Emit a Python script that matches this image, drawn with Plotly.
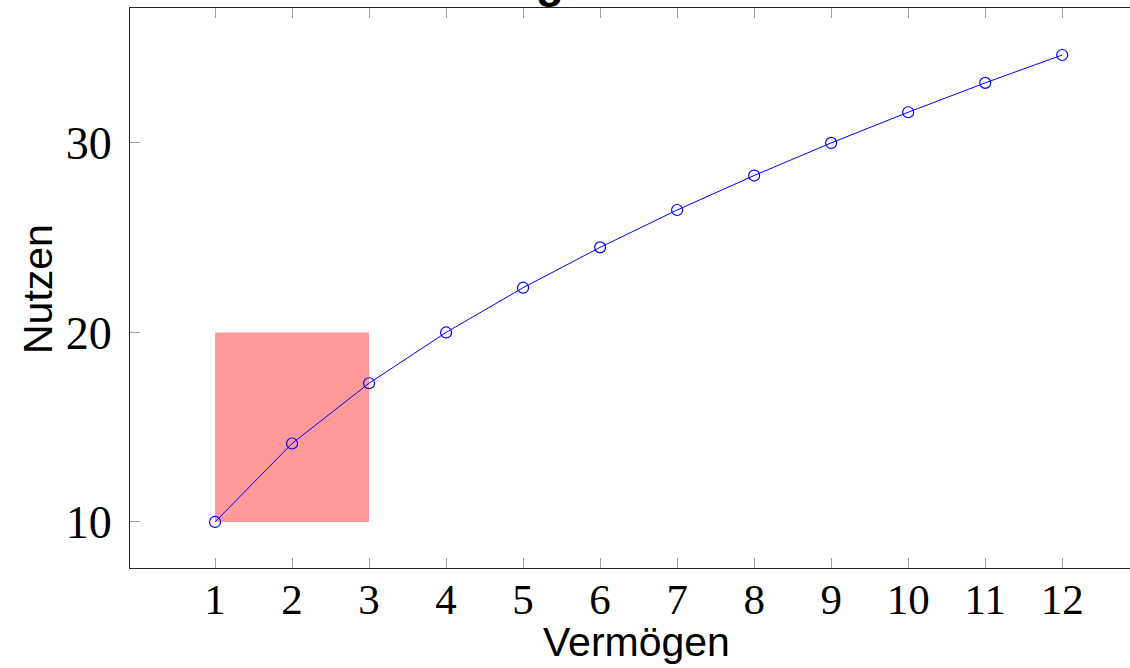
import plotly.graph_objects as go

# Data
wealth = [1, 2, 3, 4, 5, 6, 7, 8, 9, 10, 11, 12]
utility = [10.0, 14.14, 17.32, 20.0, 22.36, 24.49, 26.46, 28.28, 30.0, 31.62, 33.17, 34.64]
x_ticks = [1, 2, 3, 4, 5, 6, 7, 8, 9, 10, 11, 12]
y_ticks = [10, 20, 30]
rect_x = [1, 3]
rect_y = [10, 20]

title_text = "Vermögen und Nutzen"
x_label = "Vermögen"
y_label = "Nutzen"

fig = go.Figure()
fig.add_trace(go.Scatter(
    x=wealth, y=utility, mode="lines+markers",
    line=dict(color="#0000ff", width=1),
    marker=dict(symbol="circle-open", size=11, color="#0000ff", line=dict(width=1.2, color="#0000ff")),
    showlegend=False,
))

fig.add_shape(type="rect", xref="x", yref="y",
              x0=rect_x[0], x1=rect_x[1], y0=rect_y[0], y1=rect_y[1],
              fillcolor="rgba(255,0,0,0.4)", line=dict(width=0), layer="below")

serif = "Liberation Serif"
sans = "Liberation Sans"

fig.update_layout(
    width=1130, height=668,
    margin=dict(l=130, r=0, t=8, b=100),
    paper_bgcolor="white", plot_bgcolor="white",
    xaxis=dict(
        range=[-0.104, 12.88], tickmode="array", tickvals=x_ticks,
        ticktext=[str(v) for v in x_ticks],
        ticks="inside", ticklen=10, tickcolor="#a0a0a0", tickwidth=1,
        showline=True, linecolor="#222222", linewidth=1, mirror="ticks",
        showgrid=False, zeroline=False, ticklabelstandoff=-7,
        tickfont=dict(family=serif, size=43, color="black"),
    ),
    yaxis=dict(
        range=[7.57, 37.12], tickmode="array", tickvals=y_ticks,
        ticktext=[str(v) for v in y_ticks],
        ticks="inside", ticklen=10, tickcolor="#a0a0a0", tickwidth=1,
        showline=True, linecolor="#222222", linewidth=1, mirror=False,
        showgrid=False, zeroline=False, ticklabelstandoff=8,
        tickfont=dict(family=serif, size=46, color="black"),
    ),
    annotations=[
        dict(text=title_text, xref="paper", yref="paper", x=0.508, y=0.999,
             xanchor="center", yanchor="bottom", showarrow=False,
             font=dict(family=sans, size=46, color="black", weight="bold"),
             ),
        dict(text=x_label, xref="paper", yref="paper", x=0.5065, y=-0.1318,
             xanchor="center", yanchor="middle", showarrow=False,
             font=dict(family=sans, size=41, color="black")),
        dict(text=y_label, xref="paper", yref="paper", x=-0.0925, y=0.4973,
             xanchor="center", yanchor="middle", showarrow=False, textangle=-90,
             font=dict(family=sans, size=41, color="black")),
    ],
)

fig.write_html("out.html")
